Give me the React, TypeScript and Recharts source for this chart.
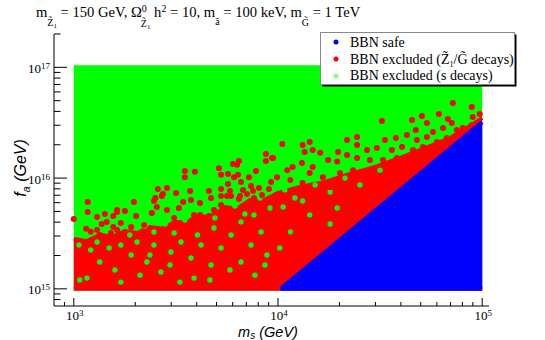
import { ComposedChart, Area, Scatter, XAxis, YAxis } from 'recharts';

// scan limits of the parameter space
const msRange = [1000, 100000];
const faRange = [1e15, 1e17];

// axis ticks
const xTicks = [
  900, 1000, 2000, 3000, 4000, 5000, 6000, 7000, 8000, 9000,
  10000, 20000, 30000, 40000, 50000, 60000, 70000, 80000, 90000, 100000,
];
const yTicks = [
  8e14, 9e14, 1e15, 2e15, 3e15, 4e15, 5e15, 6e15, 7e15, 8e15, 9e15,
  1e16, 2e16, 3e16, 4e16, 5e16, 6e16, 7e16, 8e16, 9e16, 1e17, 2e17,
];

// dense red region (upper edge of the BBN excluded by neutralino/gravitino decays)
const redBandMs = [1000, 1160, 1340, 1550, 1780, 2050, 2360, 2700, 3130, 3600, 4150, 4800, 5500, 6300, 7290, 8500, 10000, 12800, 17000, 22500, 29900, 39600, 52500, 69700, 87000, 100000];
const redBandTop = [2.82e15, 2.7e15, 3.07e15, 2.95e15, 3.33e15, 3.2e15, 3.62e15, 3.5e15, 4.02e15, 4.0e15, 4.74e15, 4.6e15, 5.48e15, 5.3e15, 6.34e15, 6.3e15, 7.34e15, 8.31e15, 9.22e15, 1.09e16, 1.26e16, 1.52e16, 1.87e16, 2.3e16, 2.96e16, 3.48e16];

// BBN safe wedge
const safeMs = [10300, 100000];
const safeTop = [1e15, 3.2e16];

// scattered red points
const redDotMs = [
  1170, 1170, 1000, 1300, 1420, 1560, 1630, 1560, 1150, 1210, 1300, 1370, 1450, 1340, 1450, 1520, 1630,
  1630, 1780, 1700, 1910, 1970, 2020, 2210, 2410, 2470, 2550, 2700, 2860, 3100, 3270, 3430, 3750, 4150, 3880, 4340, 4700, 4860, 5260, 5630, 6440, 6090, 7050, 7630, 8260, 8830,
  3500, 3500, 3920, 5140, 5260, 6020, 6440, 6300, 8730, 8730, 9350, 7800, 6370, 5690, 6090, 6590, 7210, 5690, 7380, 9250,
  2580, 2860, 3170, 3710, 4590, 2730, 2510, 5260, 5820, 6740, 7550, 8070, 9030, 5260, 5890, 6520, 7050, 8350,
  71800, 88900, 97300, 89900, 50700, 45300, 61400, 67900, 71000, 32300, 47300, 53600, 57400, 64300, 75100, 80400, 88900,
  37800, 33400, 24400, 21800, 42800, 47900, 53600, 60000, 67100, 14300, 10500, 13200, 9460, 24400, 27300, 30500, 36100, 40500, 45800, 51300, 55500, 62100,
  13500, 14800, 16100, 19700, 21800, 17600, 13100, 11800, 11100, 14800, 19500, 24400, 28200, 32700, 38200, 44300, 49500, 55500,
  39600, 44300, 34100, 28200, 23300, 20100, 16600, 14300, 11500, 9890, 13200, 18000, 22500, 27300, 31600, 35300,
];
const redDotFa = [
  6.08e15, 4.94e15, 4.28e15, 4.46e15, 4.74e15, 4.55e15, 4.94e15, 3.62e15, 3.48e15, 3.27e15, 3.4e15, 3.85e15, 4.02e15, 3.07e15, 2.82e15, 3.2e15, 3.4e15,
  5.15e15, 5.05e15, 3.93e15, 3.62e15, 6.08e15, 4.55e15, 3.78e15, 4.84e15, 6.21e15, 5.48e15, 6.89e15, 5.15e15, 4.37e15, 5.37e15, 6.08e15, 6.34e15, 5.96e15, 4.65e15, 4.02e15, 6.61e15, 5.15e15, 5.72e15, 6.89e15, 6.48e15, 4.84e15, 5.72e15, 6.61e15, 5.37e15, 6.08e15,
  1.16e16, 1.02e16, 1.14e16, 1.23e16, 1.07e16, 1.34e16, 1.43e16, 1.32e16, 1.65e16, 1.43e16, 1.52e16, 1.16e16, 1.07e16, 1.09e16, 1.02e16, 9.22e15, 1.02e16, 8.85e15, 8.49e15, 9.22e15,
  7.98e15, 8.15e15, 7.34e15, 7.66e15, 7.66e15, 7.18e15, 6.61e15, 7.98e15, 7.66e15, 7.82e15, 7.66e15, 8.15e15, 7.98e15, 6.89e15, 6.89e15, 6.89e15, 7.18e15, 7.04e15,
  4.77e16, 4.38e16, 3.79e16, 3.56e16, 3.64e16, 3.35e16, 3.79e16, 3.42e16, 3.15e16, 3.28e16, 2.72e16, 3.15e16, 2.61e16, 2.84e16, 2.72e16, 2.84e16, 3.02e16,
  2.3e16, 2.21e16, 2.35e16, 2.21e16, 2.45e16, 2.21e16, 2.35e16, 2.12e16, 2.3e16, 2.12e16, 2.03e16, 1.99e16, 1.52e16, 1.99e16, 1.79e16, 1.87e16, 1.79e16, 1.91e16, 1.79e16, 1.91e16, 1.72e16, 1.79e16,
  1.72e16, 1.79e16, 1.69e16, 1.72e16, 1.62e16, 1.46e16, 1.37e16, 1.26e16, 1.18e16, 1.26e16, 1.41e16, 1.52e16, 1.46e16, 1.46e16, 1.52e16, 1.55e16, 1.52e16, 1.46e16,
  1.26e16, 1.18e16, 1.18e16, 1.11e16, 1.18e16, 1.11e16, 1.02e16, 1.11e16, 9.61e15, 1.02e16, 9.03e15, 8.31e15, 9.03e15, 8.67e15, 9.03e15, 9.61e15,
];

// green points showing through the dense red region
const greenDotMs = [
  1060, 1210, 1300, 1490, 1700, 1910, 2040, 2280, 2470, 2670, 2990, 3350, 3750, 4200, 4700, 5260, 5890, 6590, 7380, 8260, 8830,
  1160, 1700, 3880, 2040, 2470, 3100, 4030, 4860, 6590, 7630, 10600, 13200, 14300, 18000, 19500, 11500,
  1130, 1500, 1880, 2230, 2800, 3500, 4390, 4910, 6150, 6880, 8160, 9140, 10800, 12100, 15200, 18000, 21300, 25200, 31600,
  1340, 1590, 2110, 2960, 3310, 4640, 5820, 7710, 8630, 2360, 1070, 10200,
];
const greenDotFa = [
  2.49e15, 2.24e15, 2.65e15, 2.34e15, 2.49e15, 2.02e15, 2.65e15, 1.75e15, 2.49e15, 1.42e15, 2.15e15, 2.65e15, 1.9e15, 2.49e15, 1.64e15, 2.34e15, 3.06e15, 1.75e15, 2.49e15, 3.26e15, 2.02e15,
  1.25e15, 1.15e15, 1.25e15, 3.54e15, 3.26e15, 3.19e15, 3.06e15, 3.54e15, 4.02e15, 4.65e15, 5.48e15, 6.21e15, 4.65e15, 3.85e15, 5.37e15, 3.27e15,
  3.0e15, 3.4e15, 3.06e15, 3.69e15, 3.85e15, 4.19e15, 4.94e15, 4.37e15, 5.6e15, 4.74e15, 6.61e15, 5.37e15, 7.82e15, 6.61e15, 8.67e15, 7.5e15, 1.0e16, 8.67e15, 1.18e16,
  1.75e15, 1.48e15, 1.33e15, 1.64e15, 1.15e15, 1.2e15, 1.48e15, 1.33e15, 1.64e15, 2.02e15, 1.2e15, 2.34e15,
];

const legendItems = [
  { label: 'BBN safe', color: '#0000ff' },
  { label: 'red', color: '#ff0000' },
  { label: 'BBN excluded (s decays)', color: '#88ff88' },
];

const GREEN = '#00ff00';
const RED = '#ff0000';
const BLUE = '#0000ff';
const serif = '"Liberation Serif", "Times New Roman", serif';
const sans = '"Liberation Sans", Arial, sans-serif';

const greenData = msRange.map((m) => ({ x: m, band: [faRange[0], faRange[1]] }));
const redData = redBandMs.map((m, i) => ({ x: m, band: [faRange[0], redBandTop[i]] }));
const safeData = safeMs.map((m, i) => ({ x: m, band: [faRange[0], safeTop[i]] }));
const redDots = redDotMs.map((m, i) => ({ x: m, y: redDotFa[i] }));
const greenDots = greenDotMs.map((m, i) => ({ x: m, y: greenDotFa[i] }));

const isDecade = (v: number) => Math.abs(Math.log10(v) - Math.round(Math.log10(v))) < 1e-6;

const XTick = (props: any) => {
  const { x, y, payload } = props;
  const v = payload.value;
  const major = isDecade(v);
  return (
    <g>
      <line x1={x} x2={x} y1={y} y2={y - (major ? 8 : 4)} stroke="#000" />
      {major && (
        <text x={x + 1} y={y + 14} textAnchor="middle" fontFamily={serif} fontSize={13} fill="#000">
          10<tspan dy={-4.5} fontSize={9}>{Math.round(Math.log10(v))}</tspan>
        </text>
      )}
    </g>
  );
};

const YTick = (props: any) => {
  const { x, y, payload } = props;
  const v = payload.value;
  const major = isDecade(v);
  return (
    <g>
      <line x1={x} x2={x + (major ? 13 : 6.5)} y1={y} y2={y} stroke="#000" />
      {major && (
        <text x={x - 4} y={y + 5.5} textAnchor="end" fontFamily={serif} fontSize={13} fill="#000">
          10<tspan dy={-4} fontSize={9}>{Math.round(Math.log10(v))}</tspan>
        </text>
      )}
    </g>
  );
};

const dot = (color: string, r: number) => (props: any) =>
  <circle cx={props.cx} cy={props.cy} r={r} fill={color} />;

const Overlay = () => (
  <svg width={545} height={340} style={{ position: 'absolute', left: 0, top: 0, pointerEvents: 'none' }}>
    {/* title */}
    <text x={36} y={17} fontFamily={serif} fontSize={14.6} fill="#000">
      m<tspan dy={9} fontSize={10}>Z&#771;</tspan>
      <tspan dy={2} fontSize={7}>1</tspan>
      <tspan dy={-11} fontSize={14.6}> = 150 GeV, Ω</tspan>
      <tspan dy={-5} fontSize={10}>0</tspan>
      <tspan dx={-6} dy={15} fontSize={10}>Z&#771;</tspan>
      <tspan dy={2} fontSize={7}>1</tspan>
      <tspan dy={-12} fontSize={14.6}> h</tspan>
      <tspan dy={-5} fontSize={10}>2</tspan>
      <tspan dy={5} fontSize={14.6}> = 10, m</tspan>
      <tspan dy={8} fontSize={10}>a&#771;</tspan>
      <tspan dy={-8} fontSize={14.6}> = 100 keV, m</tspan>
      <tspan dy={9} fontSize={10}>G&#771;</tspan>
      <tspan dy={-9} fontSize={14.6}> = 1 TeV</tspan>
    </text>

    {/* legend */}
    <rect x={322.5} y={34.5} width={194} height={52} fill="#000" />
    <rect x={320.5} y={32.5} width={194} height={52} fill="#fff" stroke="#888" />
    {legendItems.map((it, i) => (
      <g key={i}>
        <circle cx={336} cy={42 + i * 17} r={2.5} fill={it.color} />
        <text x={350} y={47 + i * 16.5} fontFamily={serif} fontSize={14} fill="#000">
          {i === 1 ? (
            <>
              BBN excluded (Z&#771;<tspan dy={3} fontSize={8}>1</tspan>
              <tspan dy={-3}>/G&#771; decays)</tspan>
            </>
          ) : (
            it.label
          )}
        </text>
      </g>
    ))}

    {/* axis titles */}
    <text x={268} y={336.5} textAnchor="middle" fontFamily={sans} fontStyle="italic" fontSize={14.5} fill="#000">
      m<tspan dy={2.5} fontSize={10}>s</tspan>
      <tspan dy={-2.5}> (GeV)</tspan>
    </text>
    <text transform="translate(26,168) rotate(-90)" textAnchor="middle" fontFamily={sans} fontStyle="italic" fontSize={16} fill="#000">
      f<tspan dy={4} fontSize={11}>a</tspan>
      <tspan dy={-4}> (GeV)</tspan>
    </text>
  </svg>
);

export default function App() {
  return (
    <div style={{ position: 'absolute', left: 0, top: 0, width: 545, height: 340, background: '#fff' }}>
      <ComposedChart width={545} height={340} margin={{ top: 34, right: 56, bottom: 0, left: 0 }}>
        <XAxis
          dataKey="x"
          type="number"
          scale="log"
          domain={[800, 108000]}
          allowDataOverflow
          ticks={xTicks}
          interval={0}
          tick={<XTick />}
          tickSize={0}
          tickMargin={0}
          tickLine={false}
          axisLine={{ stroke: '#000' }}
          height={34}
        />
        <XAxis
          xAxisId="top"
          orientation="top"
          type="number"
          scale="log"
          domain={[800, 108000]}
          allowDataOverflow
          tick={false}
          tickLine={false}
          axisLine={{ stroke: '#000' }}
          height={0}
        />
        <YAxis
          dataKey="y"
          type="number"
          scale="log"
          domain={[7e14, 2e17]}
          allowDataOverflow
          ticks={yTicks}
          interval={0}
          tick={<YTick />}
          tickSize={0}
          tickMargin={0}
          tickLine={false}
          axisLine={{ stroke: '#000' }}
          width={54}
        />
        <YAxis
          yAxisId="right"
          orientation="right"
          type="number"
          scale="log"
          domain={[7e14, 2e17]}
          allowDataOverflow
          tick={false}
          tickLine={false}
          axisLine={{ stroke: '#000' }}
          width={0}
        />
        <Area
          data={greenData}
          dataKey="band"
          type="linear"
          fill={GREEN}
          fillOpacity={1}
          stroke={GREEN}
          strokeWidth={4}
          isAnimationActive={false}
          dot={false}
          activeDot={false}
        />
        <Area
          data={redData}
          dataKey="band"
          type="linear"
          fill={RED}
          fillOpacity={1}
          stroke={RED}
          strokeWidth={4}
          isAnimationActive={false}
          dot={false}
          activeDot={false}
        />
        <Scatter data={greenDots} dataKey="y" shape={dot(GREEN, 2.7)} isAnimationActive={false} />
        <Scatter data={redDots} dataKey="y" shape={dot(RED, 3)} isAnimationActive={false} />
        <Area
          data={safeData}
          dataKey="band"
          type="linear"
          fill={BLUE}
          fillOpacity={1}
          stroke={BLUE}
          strokeWidth={4}
          isAnimationActive={false}
          dot={false}
          activeDot={false}
          zIndex={700}
        />
      </ComposedChart>
      <Overlay />
    </div>
  );
}
